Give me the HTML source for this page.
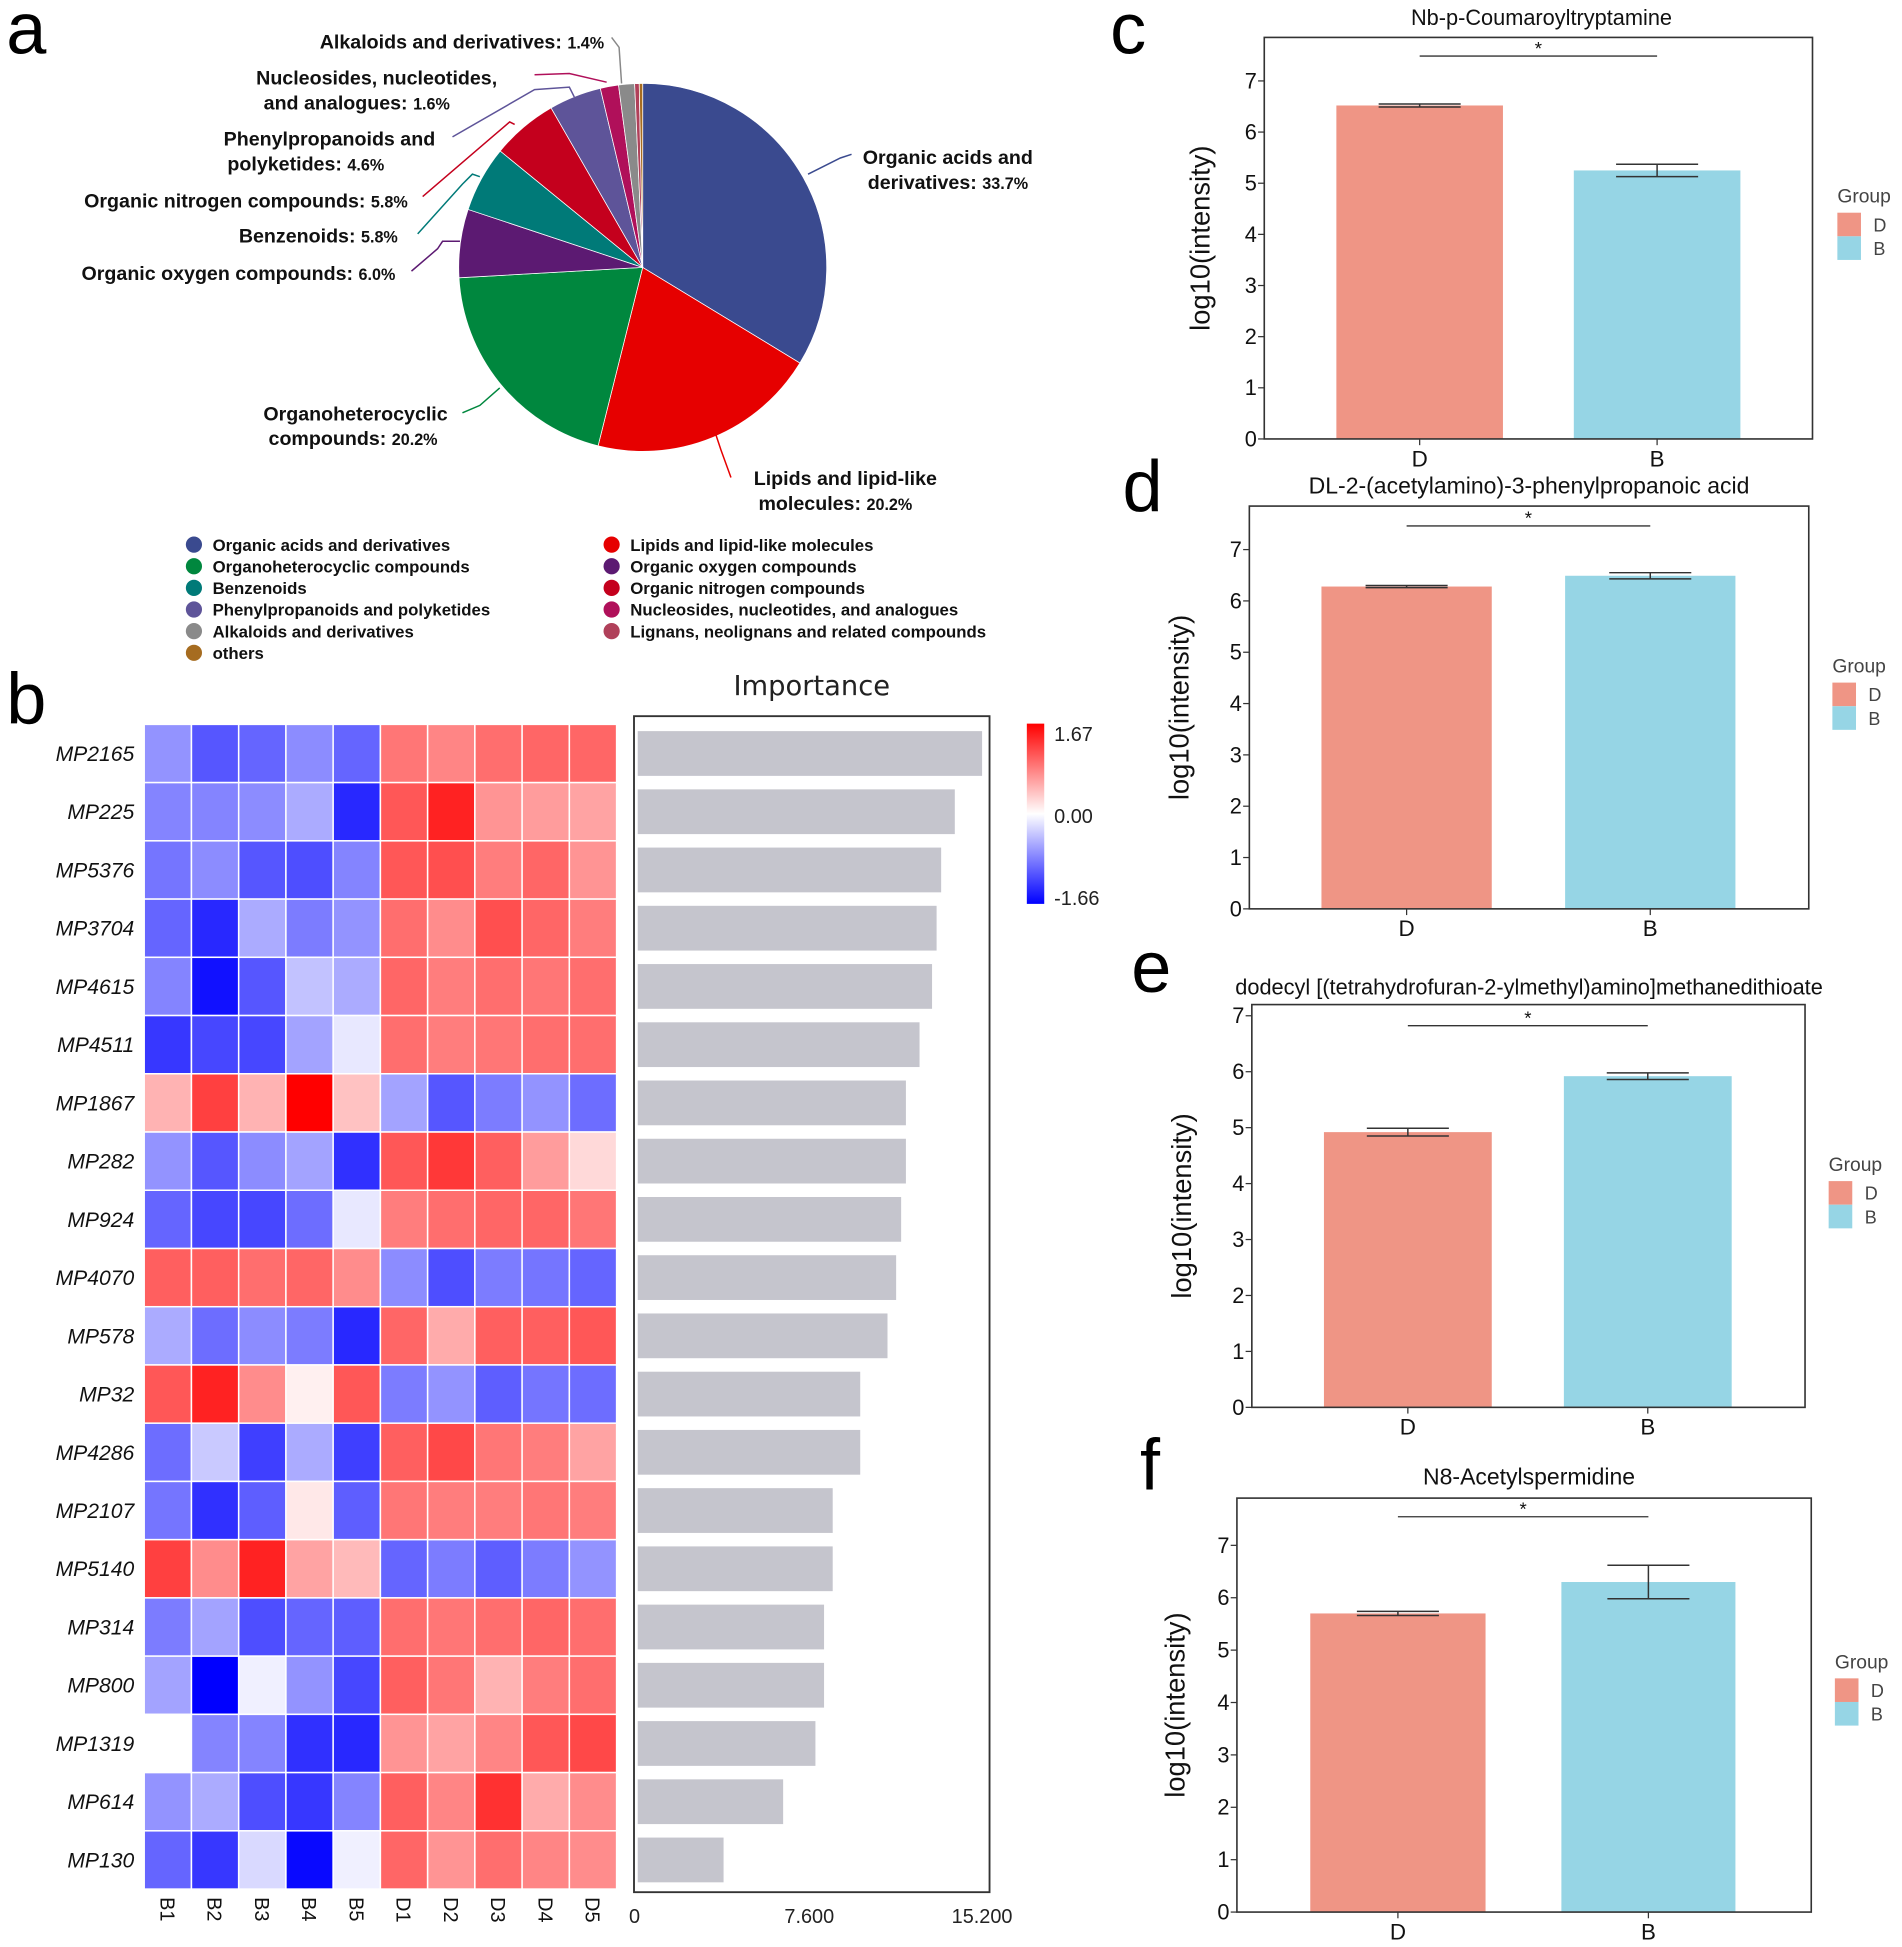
<!DOCTYPE html>
<html><head><meta charset="utf-8"><style>
html,body{margin:0;padding:0;background:#fff;}
svg{display:block;font-family:"Liberation Sans",Arial,sans-serif;}
</style></head><body>
<svg id="fig" width="1902" height="1947" viewBox="0 0 1530 1566" xmlns="http://www.w3.org/2000/svg">
<rect x="0" y="0" width="1530" height="1566" fill="#fff"/>
<text x="5" y="43" font-size="58">a</text>
<text x="5" y="582" font-size="58">b</text>
<text x="893" y="43" font-size="58">c</text>
<text x="903" y="411" font-size="58">d</text>
<text x="910" y="798" font-size="58">e</text>
<text x="917" y="1198" font-size="58">f</text>
<g id="pie"></g>
<g id="pielabels" font-weight="bold" font-size="15.8" fill="#111">
<text x="486" y="39" text-anchor="end">Alkaloids and derivatives: <tspan font-size="13">1.4%</tspan></text>
<text x="303" y="68" text-anchor="middle">Nucleosides, nucleotides,</text>
<text x="287" y="88" text-anchor="middle">and analogues: <tspan font-size="13">1.6%</tspan></text>
<text x="265" y="117" text-anchor="middle">Phenylpropanoids and</text>
<text x="246" y="137" text-anchor="middle">polyketides: <tspan font-size="13">4.6%</tspan></text>
<text x="328" y="167" text-anchor="end">Organic nitrogen compounds: <tspan font-size="13">5.8%</tspan></text>
<text x="320" y="195" text-anchor="end">Benzenoids: <tspan font-size="13">5.8%</tspan></text>
<text x="318" y="225" text-anchor="end">Organic oxygen compounds: <tspan font-size="13">6.0%</tspan></text>
<text x="694" y="132">Organic acids and</text>
<text x="698" y="152">derivatives: <tspan font-size="13">33.7%</tspan></text>
<text x="286" y="338" text-anchor="middle">Organoheterocyclic</text>
<text x="284" y="358" text-anchor="middle">compounds: <tspan font-size="13">20.2%</tspan></text>
<text x="680" y="390" text-anchor="middle">Lipids and lipid-like</text>
<text x="672" y="410" text-anchor="middle">molecules: <tspan font-size="13">20.2%</tspan></text>
</g>
<g fill="none" stroke-width="1.2">
<polyline points="492,30 498,38 500,67" stroke="#888"/>
<polyline points="430,60 458,59 488,66" stroke="#b0105a"/>
<polyline points="364,110 430,72 458,70 462,78" stroke="#5e5499"/>
<polyline points="340,158 396,110 410,98 414,100" stroke="#c4001d"/>
<polyline points="336,188 372,148 380,140 386,142" stroke="#007a78"/>
<polyline points="331,218 352,200 356,194 370,194" stroke="#5c1a72"/>
<polyline points="650,140 676,127 685,124" stroke="#3a4a8f"/>
<polyline points="372,332 386,326 402,312" stroke="#00873e"/>
<polyline points="575,347 580,362 588,384" stroke="#e60000"/>
</g>
<g id="pielegend" font-weight="bold" font-size="13.5" fill="#111"></g>
<g id="heat"></g>
<g id="imp"></g>
<g id="bars"></g>
</svg>
<script>
const NS='http://www.w3.org/2000/svg';
function mk(parent,tag,attrs,text){const e=document.createElementNS(NS,tag);for(const k in attrs)e.setAttribute(k,attrs[k]);if(text!==undefined)e.textContent=text;parent.appendChild(e);return e;}

// ---------- Pie data ----------
const pieCategories=['Organic acids and derivatives','Lipids and lipid-like molecules','Organoheterocyclic compounds','Organic oxygen compounds','Benzenoids','Organic nitrogen compounds','Phenylpropanoids and polyketides','Nucleosides, nucleotides, and analogues','Alkaloids and derivatives','Lignans, neolignans and related compounds','others'];
const pieValues=[33.7,20.2,20.2,6.0,5.8,5.8,4.6,1.6,1.4,0.4,0.3];
const pieColors=['#3a4a8f','#e60000','#00873e','#5c1a72','#007a78','#c4001d','#5e5499','#b0105a','#8a8a8a','#b0405a','#a66c20'];
const legendOrder=[[0,'Organic acids and derivatives'],[2,'Organoheterocyclic compounds'],[4,'Benzenoids'],[6,'Phenylpropanoids and polyketides'],[8,'Alkaloids and derivatives'],[10,'others'],[1,'Lipids and lipid-like molecules'],[3,'Organic oxygen compounds'],[5,'Organic nitrogen compounds'],[7,'Nucleosides, nucleotides, and analogues'],[9,'Lignans, neolignans and related compounds']];

(function(){
  const g=document.getElementById('pie');const cx=517,cy=215,r=148;
  const total=pieValues.reduce((a,b)=>a+b,0);let a0=0;
  pieValues.forEach((v,i)=>{
    const a1=a0+v/total*2*Math.PI;
    const x0=cx+r*Math.sin(a0),y0=cy-r*Math.cos(a0),x1=cx+r*Math.sin(a1),y1=cy-r*Math.cos(a1);
    const p=mk(g,'path',{d:`M${cx},${cy}L${x0},${y0}A${r},${r} 0 ${(a1-a0)>Math.PI?1:0} 1 ${x1},${y1}Z`,fill:pieColors[i],stroke:'#fff','stroke-width':0.6});
    
    
    a0=a1;
  });
  const lg=document.getElementById('pielegend');
  legendOrder.forEach((it,k)=>{
    const col=k<6?0:1,row=k<6?k:k-6;
    const x=col?492:156,y=438+row*17.4;
    const c=mk(lg,'circle',{cx:x,cy:y,r:6.5,fill:pieColors[it[0]]});
    
    
    const t=mk(lg,'text',{x:x+15,y:y+5},it[1]);
    
    
  });
})();

// ---------- Heatmap data ----------
const heatRows=['MP2165','MP225','MP5376','MP3704','MP4615','MP4511','MP1867','MP282','MP924','MP4070','MP578','MP32','MP4286','MP2107','MP5140','MP314','MP800','MP1319','MP614','MP130'];
const heatCols=['B1','B2','B3','B4','B5','D1','D2','D3','D4','D5'];
const heatValues=[
[-0.7,-1.1,-1.0,-0.75,-1.0,0.9,0.8,0.95,1.0,1.0],
[-0.8,-0.8,-0.75,-0.55,-1.4,1.1,1.45,0.7,0.65,0.6],
[-0.9,-0.75,-1.1,-1.15,-0.8,1.1,1.15,0.85,1.0,0.7],
[-1.0,-1.4,-0.55,-0.85,-0.7,0.95,0.75,1.15,1.0,0.85],
[-0.8,-1.55,-1.1,-0.4,-0.55,1.0,0.85,0.95,0.9,0.95],
[-1.3,-1.2,-1.2,-0.6,-0.15,0.95,0.85,0.9,0.95,0.95],
[0.5,1.25,0.5,1.67,0.4,-0.6,-1.1,-0.85,-0.7,-0.95],
[-0.7,-1.1,-0.75,-0.6,-1.35,1.1,1.3,1.05,0.65,0.25],
[-1.0,-1.2,-1.2,-0.95,-0.15,0.85,0.95,1.0,1.0,0.9],
[1.05,1.05,0.95,1.0,0.75,-0.75,-1.15,-0.85,-0.9,-1.0],
[-0.55,-0.95,-0.75,-0.85,-1.4,1.0,0.55,1.05,1.05,1.1],
[1.1,1.45,0.75,0.1,1.1,-0.85,-0.7,-1.05,-0.9,-0.95],
[-0.95,-0.35,-1.25,-0.55,-1.25,1.05,1.2,0.9,0.85,0.6],
[-0.9,-1.35,-1.05,0.15,-1.05,0.9,0.85,0.85,0.9,0.85],
[1.25,0.75,1.45,0.6,0.45,-1.0,-0.85,-1.05,-0.85,-0.7],
[-0.85,-0.6,-1.15,-1.0,-1.05,0.95,0.9,0.95,1.0,0.95],
[-0.6,-1.66,-0.1,-0.7,-1.2,1.05,0.9,0.5,0.85,0.95],
[0.0,-0.8,-0.8,-1.35,-1.4,0.7,0.6,0.8,1.1,1.2],
[-0.7,-0.55,-1.15,-1.3,-0.8,1.05,0.8,1.35,0.55,0.75],
[-1.0,-1.3,-0.25,-1.6,-0.1,1.0,0.7,0.95,0.8,0.75]];
const importanceValues=[15.2,14.0,13.4,13.2,13.0,12.45,11.85,11.85,11.64,11.42,11.04,9.84,9.84,8.63,8.63,8.25,8.25,7.87,6.45,3.83];
const importanceTicks=[0,7.6,15.2];
const importanceTickLabels=['0','7.600','15.200'];
const colorbarLabels=['1.67','0.00','-1.66'];
const zMax=1.67,zMin=-1.66;

function heatColor(z){
  if(z>=0){const t=Math.min(1,z/zMax);const c=Math.round(255*(1-t));return `rgb(255,${c},${c})`;}
  const t=Math.min(1,z/zMin);const c=Math.round(255*(1-t));return `rgb(${c},${c},255)`;
}
(function(){
  const g=document.getElementById('heat');
  const x0=116,x1=496,y0=582.6,y1=1519.5;
  const cw=(x1-x0)/heatCols.length,rh=(y1-y0)/heatRows.length;
  heatRows.forEach((rn,i)=>{
    heatCols.forEach((cn,j)=>{
      const r=mk(g,'rect',{x:x0+j*cw,y:y0+i*rh,width:cw,height:rh,fill:heatColor(heatValues[i][j]),stroke:'#fff','stroke-width':1.2});
      
      
    });
    const t=mk(g,'text',{x:108,y:y0+(i+0.5)*rh+6,'text-anchor':'end','font-size':17,'font-style':'italic',fill:'#111'},rn);
    
    
  });
  heatCols.forEach((cn,j)=>{
    const cx=x0+(j+0.5)*cw;
    const t=mk(g,'text',{x:0,y:0,transform:`translate(${cx-6},1526) rotate(90)`,'font-size':16,fill:'#111'},cn);
    
    
  });
  const defs=mk(g,'defs',{});
  const lgd=mk(defs,'linearGradient',{id:'cb',x1:0,y1:0,x2:0,y2:1});
  mk(lgd,'stop',{offset:'0','stop-color':'#ff0000'});
  mk(lgd,'stop',{offset:'0.5','stop-color':'#ffffff'});
  mk(lgd,'stop',{offset:'1','stop-color':'#0000ff'});
  const cb=mk(g,'rect',{x:826,y:582,width:14,height:145,fill:'url(#cb)'});
  
  
  colorbarLabels.forEach((l,k)=>{
    const t=mk(g,'text',{x:848,y:596+k*66,'font-size':16,fill:'#222'},l);
    
    
  });
  const ig=document.getElementById('imp');
  const ix=v=>512+v*(790-512)/15.2;
  const box=mk(ig,'rect',{x:510,y:576,width:286,height:946,fill:'none',stroke:'#333','stroke-width':1.5});
  
  
  const tt=mk(ig,'text',{x:653,y:559,'text-anchor':'middle','font-size':22,fill:'#222','font-family':'DejaVu Sans, sans-serif'},'Importance');
  
  
  importanceValues.forEach((v,i)=>{
    const cy=y0+(i+0.5)*rh;
    const b=mk(ig,'rect',{x:ix(0)+1,y:cy-18,width:ix(v)-ix(0)-1,height:36,fill:'#c5c5cd'});
    
    
  });
  importanceTicks.forEach((v,k)=>{
    const t=mk(ig,'text',{x:ix(v),y:1547,'text-anchor':k===0?'start':'middle','font-size':16,fill:'#222'},importanceTickLabels[k]);
    if(k===0)t.setAttribute('x',ix(v)-6);
    
    
  });
})();

// ---------- Bar charts data ----------
const barCategories=['D','B'];
const barTitles=['Nb-p-Coumaroyltryptamine','DL-2-(acetylamino)-3-phenylpropanoic acid','dodecyl [(tetrahydrofuran-2-ylmethyl)amino]methanedithioate','N8-Acetylspermidine'];
const valuesC=[6.52,5.25];
const errorsC=[0.03,0.12];
const valuesD=[6.28,6.49];
const errorsD=[0.02,0.06];
const valuesE=[4.92,5.92];
const errorsE=[0.07,0.06];
const valuesF=[5.70,6.30];
const errorsF=[0.04,0.32];
const yTickLabels=['0','1','2','3','4','5','6','7'];
const barColors=['#ef9585','#96d5e5'];

const layouts=[
 {vals:valuesC,errs:errorsC,bx0:1017,bx1:1458,by0:30,by1:353,y7:65,bars:[[1075,1209],[1266,1400]],sig:45,yt:965,leg:[1478,157],id:'c'},
 {vals:valuesD,errs:errorsD,bx0:1005,bx1:1455,by0:407,by1:731,y7:442,bars:[[1063,1200],[1259,1396]],sig:423,yt:948,leg:[1474,535],id:'d'},
 {vals:valuesE,errs:errorsE,bx0:1007,bx1:1452,by0:808,by1:1132,y7:817,bars:[[1065,1200],[1258,1393]],sig:825,yt:950,leg:[1471,936],id:'e'},
 {vals:valuesF,errs:errorsF,bx0:995,bx1:1457,by0:1205,by1:1538,y7:1243,bars:[[1054,1195],[1256,1396]],sig:1220,yt:945,leg:[1476,1336],id:'f'}];
const titleY=[14,391,794,1188];
const titleX=[1240,1230,1230,1230];
const titleSize=[17.5,18.5,17.5,18.5];

(function(){
  const G=document.getElementById('bars');
  layouts.forEach((L,p)=>{
    const g=mk(G,'g',{});
    
    
    const y=v=>L.by1-v*(L.by1-L.y7)/7;
    const t=mk(g,'text',{x:titleX[p],y:titleY[p]+6,'text-anchor':'middle','font-size':titleSize[p],fill:'#111'},barTitles[p]);
    
    
    barCategories.forEach((c,i)=>{
      const bx=L.bars[i][0],bw=L.bars[i][1]-L.bars[i][0],cx=bx+bw/2,v=L.vals[i],e=L.errs[i];
      const b=mk(g,'rect',{x:bx,y:y(v),width:bw,height:y(0)-y(v),fill:barColors[i]});
      
      
      const eb=mk(g,'path',{d:`M${cx-33},${y(v+e)}H${cx+33}M${cx},${y(v+e)}V${y(v-e)}M${cx-33},${y(v-e)}H${cx+33}`,stroke:'#333','stroke-width':1.2,fill:'none'});
      
      
      const xl=mk(g,'text',{x:cx,y:L.by1+22,'text-anchor':'middle','font-size':18,fill:'#111'},c);
      
      
      mk(g,'line',{x1:cx,x2:cx,y1:L.by1,y2:L.by1+5,stroke:'#333'});
    });
    const fr=mk(g,'rect',{x:L.bx0,y:L.by0,width:L.bx1-L.bx0,height:L.by1-L.by0,fill:'none',stroke:'#333','stroke-width':1.3});
    
    
    yTickLabels.forEach((l,k)=>{
      const yy=y(+l);
      mk(g,'line',{x1:L.bx0-5,x2:L.bx0,y1:yy,y2:yy,stroke:'#333'});
      const tl=mk(g,'text',{x:L.bx0-6,y:yy+6,'text-anchor':'end','font-size':17.5,fill:'#111'},l);
      
      
    });
    const c0=(L.bars[0][0]+L.bars[0][1])/2,c1=(L.bars[1][0]+L.bars[1][1])/2;
    const sl=mk(g,'line',{x1:c0,x2:c1,y1:L.sig,y2:L.sig,stroke:'#333','stroke-width':1.1});
    
    
    const st=mk(g,'text',{x:(c0+c1)/2,y:L.sig-1,'text-anchor':'middle','font-size':15,fill:'#111'},'*');
    
    
    const cyT=(L.by0+L.by1)/2;
    const yt=mk(g,'text',{x:0,y:0,transform:`translate(${L.yt+8},${cyT}) rotate(-90)`,'text-anchor':'middle','font-size':22,fill:'#111'},'log10(intensity)');
    
    
    const lg=mk(g,'g',{});
    
    
    mk(lg,'text',{x:L.leg[0],y:L.leg[1]+6,'font-size':15.5,fill:'#444'},'Group');
    barCategories.forEach((c,i)=>{
      const s=mk(lg,'rect',{x:L.leg[0],y:L.leg[1]+14+i*19,width:19,height:19,fill:barColors[i]});
      
      
      mk(lg,'text',{x:L.leg[0]+29,y:L.leg[1]+29+i*19,'font-size':14.5,fill:'#444'},c);
    });
  });
})();
</script>
</body></html>
